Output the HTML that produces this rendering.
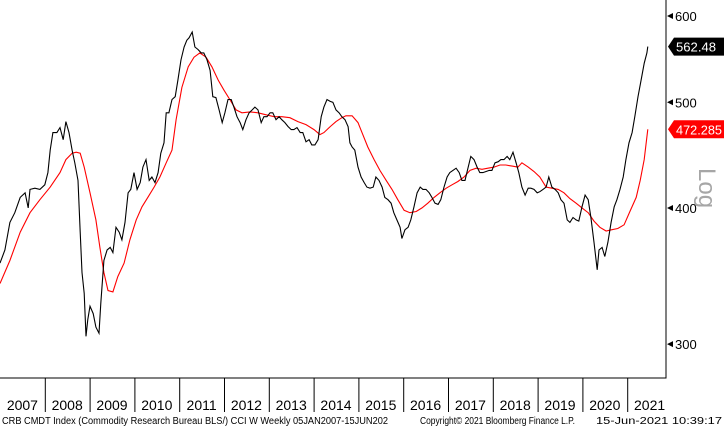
<!DOCTYPE html>
<html><head><meta charset="utf-8"><style>
html,body{margin:0;padding:0;background:#fff;width:724px;height:428px;overflow:hidden}
svg{display:block;font-family:"Liberation Sans",sans-serif}
</style></head><body>
<svg id="chart" width="724" height="428" viewBox="0 0 724 428" xmlns="http://www.w3.org/2000/svg">
<g id="grid"></g>
<path id="ma-line" fill="none" stroke="#ff0000" stroke-width="1.1"/>
<path id="price-line" fill="none" stroke="#000" stroke-width="1.1"/>
<g id="axes"></g>
<text x="0" y="0" font-size="24" fill="#a6a6a6" transform="translate(699,168) rotate(90)">Log</text>
<text x="2" y="424" font-size="10" textLength="386" lengthAdjust="spacingAndGlyphs">CRB CMDT Index (Commodity Research Bureau BLS/) CCI W  Weekly 05JAN2007-15JUN202</text>
<text x="420" y="424" font-size="10" textLength="155" lengthAdjust="spacingAndGlyphs">Copyright© 2021 Bloomberg Finance L.P.</text>
<text x="596" y="424" font-size="10" textLength="126" lengthAdjust="spacingAndGlyphs">15-Jun-2021 10:39:17</text>
</svg>
<script>
const priceDates = [2007.00,2007.11,2007.22,2007.33,2007.45,2007.56,2007.63,2007.67,2007.78,2007.89,2008.00,2008.07,2008.12,2008.18,2008.27,2008.34,2008.41,2008.47,2008.54,2008.61,2008.67,2008.74,2008.79,2008.83,2008.88,2008.92,2008.96,2009.01,2009.08,2009.14,2009.21,2009.25,2009.32,2009.39,2009.46,2009.52,2009.59,2009.66,2009.72,2009.79,2009.86,2009.92,2009.99,2010.06,2010.13,2010.19,2010.26,2010.33,2010.39,2010.46,2010.53,2010.59,2010.66,2010.71,2010.77,2010.84,2010.91,2010.97,2011.04,2011.11,2011.17,2011.22,2011.29,2011.35,2011.42,2011.49,2011.55,2011.62,2011.69,2011.75,2011.82,2011.89,2011.96,2012.02,2012.09,2012.16,2012.22,2012.29,2012.36,2012.42,2012.49,2012.56,2012.63,2012.69,2012.76,2012.83,2012.89,2012.96,2013.03,2013.09,2013.16,2013.23,2013.29,2013.36,2013.43,2013.50,2013.56,2013.63,2013.70,2013.76,2013.83,2013.90,2013.96,2014.03,2014.10,2014.17,2014.23,2014.30,2014.37,2014.43,2014.50,2014.57,2014.63,2014.70,2014.77,2014.81,2014.86,2014.92,2014.99,2015.06,2015.13,2015.19,2015.26,2015.33,2015.39,2015.46,2015.53,2015.59,2015.66,2015.73,2015.79,2015.86,2015.93,2015.97,2016.04,2016.11,2016.17,2016.24,2016.31,2016.38,2016.44,2016.51,2016.58,2016.64,2016.71,2016.78,2016.84,2016.91,2016.98,2017.04,2017.11,2017.18,2017.25,2017.31,2017.38,2017.45,2017.51,2017.58,2017.65,2017.71,2017.78,2017.85,2017.92,2017.98,2018.05,2018.12,2018.18,2018.25,2018.32,2018.38,2018.45,2018.52,2018.58,2018.65,2018.72,2018.79,2018.85,2018.92,2018.99,2019.05,2019.12,2019.19,2019.25,2019.32,2019.39,2019.46,2019.52,2019.59,2019.66,2019.72,2019.79,2019.86,2019.92,2019.99,2020.06,2020.13,2020.19,2020.26,2020.33,2020.37,2020.44,2020.50,2020.57,2020.64,2020.71,2020.77,2020.84,2020.91,2020.97,2021.04,2021.11,2021.17,2021.24,2021.31,2021.38,2021.44,2021.46];
const priceValues = [356,366,388,396,409,413,400,416,417,416,420,431,452,469,469,474,462,480,469,452,440,424,380,349,334,305,316,325,320,311,307,327,358,366,368,364,384,380,374,388,413,416,431,416,422,436,443,424,427,422,431,449,459,489,489,503,506,524,547,562,570,573,580,562,559,555,555,547,535,506,505,492,479,489,503,503,495,485,479,472,482,489,492,495,492,479,485,485,489,489,482,485,482,479,475,472,472,474,469,469,460,462,457,457,462,485,495,503,501,500,492,489,485,482,475,459,455,452,436,427,422,418,417,418,427,424,418,409,407,404,396,390,384,375,382,384,390,401,413,418,416,416,413,409,404,403,407,418,427,431,433,435,431,424,424,436,446,443,436,431,431,432,433,433,440,441,443,443,446,443,450,440,431,418,411,417,417,416,413,414,416,418,427,418,416,413,407,404,390,388,392,390,389,401,411,407,392,372,351,366,368,361,372,388,401,407,416,427,443,459,469,485,506,524,543,555,562.48];
const maDates = [2007.00,2007.22,2007.45,2007.67,2007.89,2008.12,2008.34,2008.47,2008.61,2008.70,2008.79,2008.88,2009.01,2009.14,2009.23,2009.32,2009.41,2009.52,2009.63,2009.77,2009.90,2010.04,2010.17,2010.30,2010.44,2010.57,2010.71,2010.84,2010.93,2011.06,2011.20,2011.33,2011.46,2011.60,2011.73,2011.87,2012.00,2012.13,2012.27,2012.40,2012.58,2012.76,2012.94,2013.12,2013.29,2013.47,2013.65,2013.83,2014.01,2014.14,2014.23,2014.37,2014.50,2014.63,2014.72,2014.86,2014.99,2015.08,2015.21,2015.35,2015.48,2015.62,2015.75,2015.88,2016.02,2016.15,2016.29,2016.42,2016.55,2016.69,2016.82,2016.96,2017.09,2017.22,2017.36,2017.49,2017.63,2017.76,2017.89,2018.03,2018.16,2018.29,2018.43,2018.56,2018.65,2018.79,2018.92,2019.05,2019.19,2019.32,2019.46,2019.59,2019.72,2019.86,2019.99,2020.13,2020.26,2020.39,2020.53,2020.66,2020.79,2020.93,2021.06,2021.20,2021.29,2021.38,2021.46];
const maValues = [341,358,380,396,407,418,431,443,449,450,449,436,413,390,368,349,336,335,346,356,374,390,401,409,418,427,440,452,482,516,539,550,555,550,539,524,513,503,492,489,490,489,487,485,485,484,480,477,472,467,469,475,480,484,486,486,479,469,455,443,433,424,416,407,398,396,397,400,404,409,413,417,420,423,427,433,435,434,435,436,438,438,437,436,440,436,432,427,418,417,416,413,408,404,400,396,389,384,381,382,383,386,397,409,424,443,472.285];
const yearLabels = ['2007','2008','2009','2010','2011','2012','2013','2014','2015','2016','2017','2018','2019','2020','2021'];
const yTicks = [300,400,500,600];

const NS = 'http://www.w3.org/2000/svg';
const X0 = 0, PX_PER_YEAR = 44.8, PLOT_R = 666, PLOT_B = 378;
function xs(t){ return X0 + (t - 2007) * PX_PER_YEAR; }
function ys(p){ return 16 + 1090 * (Math.log10(600) - Math.log10(p)); }
function mk(tag, attrs, parent){ const e = document.createElementNS(NS, tag); for (const k in attrs) e.setAttribute(k, attrs[k]); parent.appendChild(e); return e; }

function linePath(ds, vs){ return ds.map((d,i)=>(i?'L':'M')+xs(d).toFixed(1)+','+ys(vs[i]).toFixed(1)).join(''); }
document.getElementById('price-line').setAttribute('d', linePath(priceDates, priceValues));
document.getElementById('ma-line').setAttribute('d', linePath(maDates, maValues));

const axes = document.getElementById('axes');
const frame = mk('path', {d:`M0,${PLOT_B}H${PLOT_R}V0`, fill:'none', stroke:'#000', 'stroke-width':1}, axes);



yearLabels.forEach((y, i) => {
  const start = 2007 + i;
  if (i > 0) {
    const sep = mk('line', {x1:xs(start)+0.5, x2:xs(start)+0.5, y1:PLOT_B, y2:412, stroke:'#000', 'stroke-width':1}, axes);
    
    
  }
  const t = mk('text', {x:xs(start + 0.5), y:410, 'font-size':14, 'text-anchor':'middle', fill:'#000'}, axes);
  t.textContent = y;
  
  
});

yTicks.forEach(v => {
  const y = ys(v);
  const tri = mk('path', {d:`M${PLOT_R+1},${y}L${PLOT_R+7},${y-3}L${PLOT_R+7},${y+3}Z`, fill:'#000'}, axes);
  
  
  const t = mk('text', {x:PLOT_R+9, y:y+5, 'font-size':13, fill:'#000'}, axes);
  t.textContent = String(v);
  
  
});

function badge(val, label, color, name, w){
  const y = ys(val);
  const b = mk('path', {d:`M${PLOT_R+2},${y}L${PLOT_R+8},${y-9}H724V${y+9}H${PLOT_R+8}Z`, fill:color}, axes);
  
  
  const t = mk('text', {x:PLOT_R+10, y:y+5, 'font-size':13, fill:'#fff', textLength:w, lengthAdjust:'spacingAndGlyphs'}, axes);
  t.textContent = label;
  
  
}
badge(priceValues[priceValues.length-1], '562.48', '#000', 'last-price', 40);
badge(maValues[maValues.length-1], '472.285', '#ff0000', 'moving-average', 46);
</script>
</body></html>
